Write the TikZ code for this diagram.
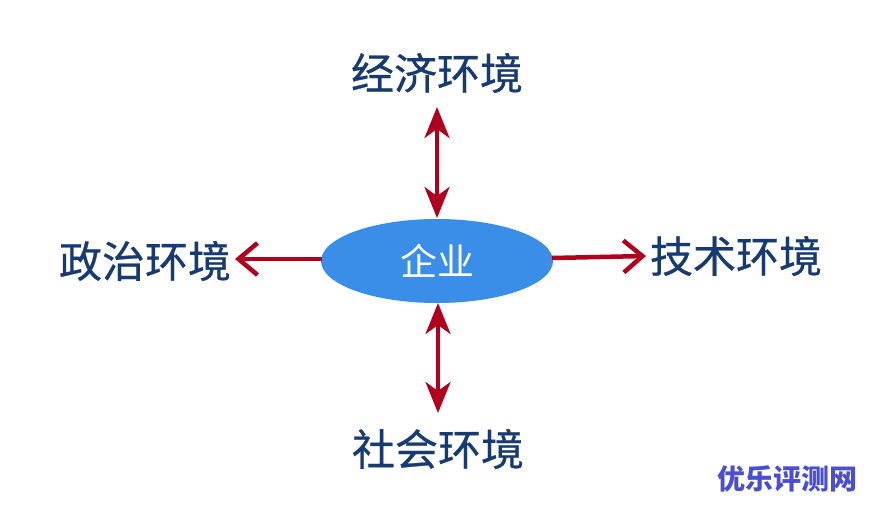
\documentclass[tikz,border=0pt]{standalone}
\usepackage{fontspec}
\newfontfamily\cjk{Noto Sans CJK SC}
\newfontfamily\cjkm[FakeBold=0.6]{Noto Sans CJK SC}
\usetikzlibrary{arrows.meta,shapes.geometric}
\definecolor{arrred}{HTML}{B0001E}
\definecolor{labblue}{HTML}{173A72}
\definecolor{ellblue}{HTML}{3B8EE8}
\definecolor{wmblue}{HTML}{4A4FD2}
\begin{document}
\begin{tikzpicture}[x=1pt,y=-1pt,
  lab/.style={text=labblue,font=\cjkm\fontsize{43}{47}\selectfont,inner sep=0pt},
  biarrow/.style={draw=arrred,line width=4pt,{Stealth[length=31pt,width=25pt,inset=9pt]}-{Stealth[length=31pt,width=25pt,inset=9pt]}},
  barbarrow/.style={draw=arrred,line width=4.5pt,-{Straight Barb[length=19pt,width=32pt]}}]
\useasboundingbox (0,0) rectangle (874,506);
\node[ellipse,fill=ellblue,minimum width=232pt,minimum height=84pt,inner sep=0pt,text=white,font=\cjk\fontsize{37}{41}\selectfont] (core) at (437,261) {企业};
\node[lab] (econ) at (437,73) {经济环境};
\node[lab] (pol) at (145,261) {政治环境};
\node[lab] (tech) at (736,256) {技术环境};
\node[lab] (soc) at (438,449) {社会环境};
\coordinate (ttop) at (437,107);
\coordinate (tbot) at (437,218);
\coordinate (btop) at (438,303);
\coordinate (bbot) at (438,413);
\coordinate (lstart) at (322,259);
\coordinate (ltip) at (235,259);
\coordinate (rstart) at (552,258);
\coordinate (rtip) at (646,256);
\draw[biarrow] (ttop) -- (tbot);
\draw[biarrow] (btop) -- (bbot);
\draw[barbarrow] (lstart) -- (ltip);
\draw[barbarrow] (rstart) -- (rtip);
\node[text=wmblue,font=\cjk\bfseries\fontsize{28}{32}\selectfont,inner sep=0pt] (wm) at (787,479) {优乐评测网};
\end{tikzpicture}
\end{document}
